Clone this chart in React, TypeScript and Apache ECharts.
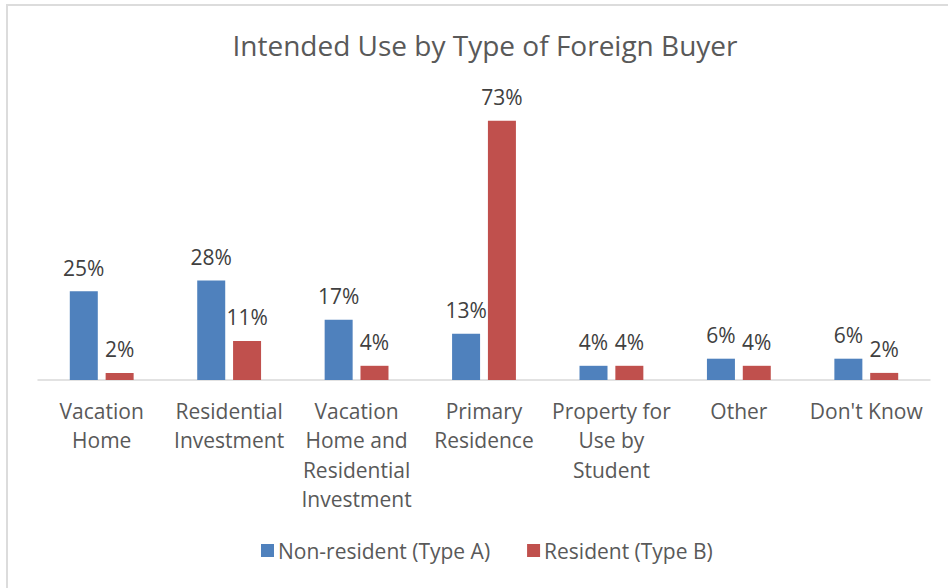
import React, { useEffect, useRef } from "react";
import * as echarts from "echarts";

const categories = [
  "Vacation\nHome",
  "Residential\nInvestment",
  "Vacation\nHome and\nResidential\nInvestment",
  "Primary\nResidence",
  "Property for\nUse by\nStudent",
  "Other",
  "Don't Know",
];
const nonResident = [25, 28, 17, 13, 4, 6, 6];
const resident = [2, 11, 4, 73, 4, 4, 2];
const seriesNames = ["Non-resident (Type A)", "Resident (Type B)"];
const titleText = "Intended Use by Type of Foreign Buyer";

const FONT = "'Open Sans', sans-serif";

export default function App() {
  const ref = useRef<HTMLDivElement>(null);
  useEffect(() => {
    if (!ref.current) return;
    const chart = echarts.init(ref.current, undefined, { renderer: "svg" });
    const label = {
      show: true,
      position: "top" as const,
      distance: 13,
      formatter: "{c}%",
      color: "#404040",
      fontSize: 21,
      fontFamily: FONT,
    };
    chart.setOption({
      animation: false,
      backgroundColor: "#ffffff",
      title: {
        text: titleText,
        left: 480,
        top: 26,
        textAlign: "center",
        textStyle: { color: "#595959", fontSize: 28, fontWeight: "normal", fontFamily: FONT },
      },
      legend: {
        left: 256,
        top: 535,
        itemWidth: 13,
        itemHeight: 13,
        itemGap: 37,
        icon: "rect",
        textStyle: { color: "#595959", fontSize: 21, fontFamily: FONT, padding: [0, 0, 0, -1] },
        data: seriesNames,
      },
      grid: { left: 38, right: 18, top: 96, bottom: 208 },
      xAxis: {
        type: "category",
        data: categories,
        axisLine: { lineStyle: { color: "#d9d9d9", width: 1.5 } },
        axisTick: { show: false },
        axisLabel: {
          interval: 0,
          color: "#595959",
          fontSize: 21,
          fontFamily: FONT,
          lineHeight: 29.5,
          margin: 16,
        },
      },
      yAxis: { type: "value", min: 0, max: 80, show: false, splitLine: { show: false } },
      graphic: [
        { type: "line", shape: { x1: 7, y1: 5, x2: 7, y2: 588 }, style: { stroke: "#dcdcdc", lineWidth: 2 } },
        { type: "line", shape: { x1: 6, y1: 5, x2: 948, y2: 5 }, style: { stroke: "#dcdcdc", lineWidth: 2 } },
      ],
      series: [
        {
          name: seriesNames[0],
          type: "bar",
          data: nonResident,
          barWidth: 28,
          barGap: "28%",
          itemStyle: { color: "#4F81BD" },
          label,
        },
        {
          name: seriesNames[1],
          type: "bar",
          data: resident,
          barWidth: 28,
          itemStyle: { color: "#C0504D" },
          label,
        },
      ],
    });
    return () => chart.dispose();
  }, []);
  return (
    <div
      ref={ref}
      style={{ position: "fixed", left: 0, top: 0, width: 948, height: 588 }}
    />
  );
}
